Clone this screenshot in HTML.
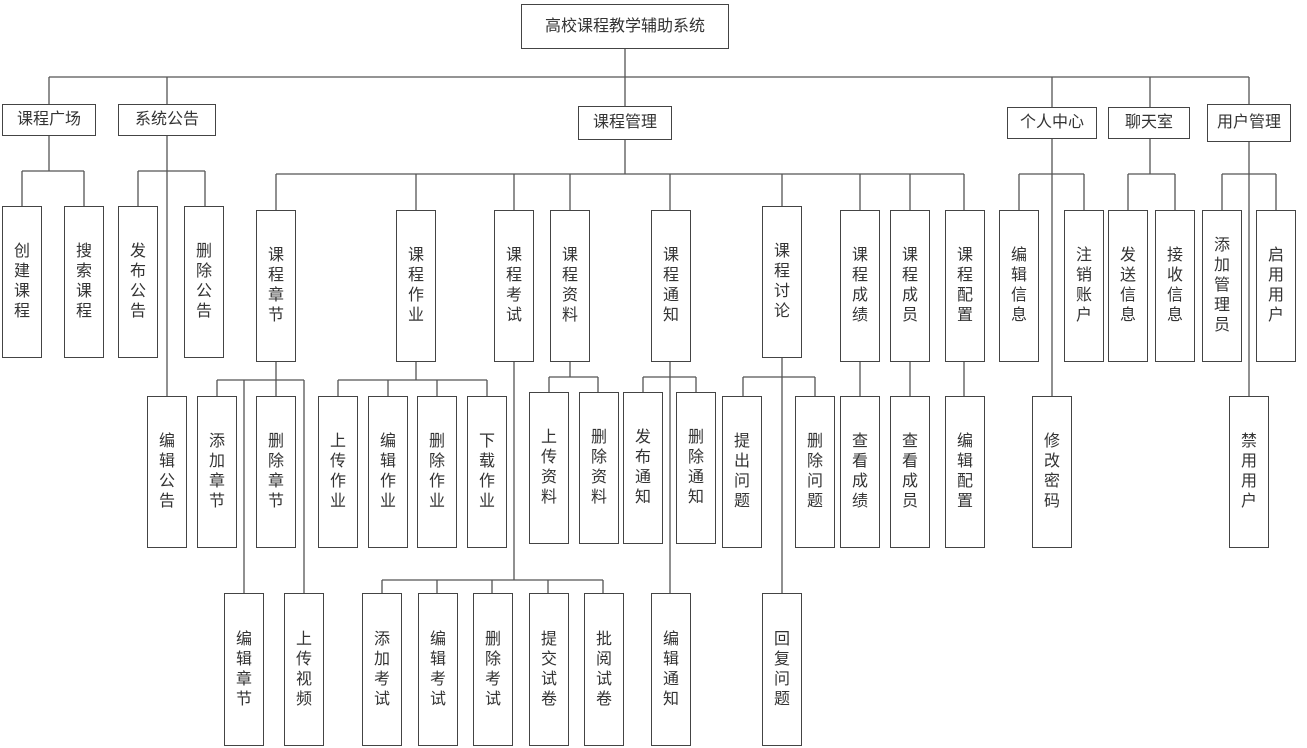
<!DOCTYPE html>
<html><head><meta charset="utf-8"><style>
html,body{margin:0;padding:0;background:#fff;}
body{width:1307px;height:748px;position:relative;overflow:hidden;font-family:"Liberation Sans","Noto Sans CJK SC",sans-serif;color:#333;}
svg{position:absolute;left:0;top:0;}
.b{position:absolute;box-sizing:border-box;border:1.3px solid #444;background:#fff;display:flex;align-items:center;justify-content:center;text-align:center;font-size:16px;line-height:20px;}
</style></head><body>
<svg width="1307" height="748" stroke="#555" stroke-width="1.3" fill="none">
<line x1="625" y1="49" x2="625" y2="106"/>
<line x1="49" y1="77" x2="1249" y2="77"/>
<line x1="49" y1="77" x2="49" y2="104"/><line x1="167" y1="77" x2="167" y2="104"/>
<line x1="1052" y1="77" x2="1052" y2="107"/><line x1="1150" y1="77" x2="1150" y2="107"/><line x1="1249" y1="77" x2="1249" y2="104"/>
<line x1="49" y1="136" x2="49" y2="171"/><line x1="22" y1="171" x2="84" y2="171"/>
<line x1="22" y1="171" x2="22" y2="206"/><line x1="84" y1="171" x2="84" y2="206"/>
<line x1="167" y1="136" x2="167" y2="396"/><line x1="138" y1="171" x2="205" y2="171"/>
<line x1="138" y1="171" x2="138" y2="206"/><line x1="205" y1="171" x2="205" y2="206"/>
<line x1="625" y1="140" x2="625" y2="174"/><line x1="276" y1="174" x2="964" y2="174"/>
<line x1="276" y1="174" x2="276" y2="210"/><line x1="416" y1="174" x2="416" y2="210"/><line x1="514" y1="174" x2="514" y2="210"/><line x1="570" y1="174" x2="570" y2="210"/><line x1="670" y1="174" x2="670" y2="210"/><line x1="782" y1="174" x2="782" y2="210"/><line x1="860" y1="174" x2="860" y2="210"/><line x1="910" y1="174" x2="910" y2="210"/><line x1="964" y1="174" x2="964" y2="210"/>
<line x1="276" y1="362" x2="276" y2="396"/><line x1="217" y1="380" x2="304" y2="380"/>
<line x1="217" y1="380" x2="217" y2="396"/><line x1="244" y1="380" x2="244" y2="593"/><line x1="304" y1="380" x2="304" y2="593"/>
<line x1="416" y1="362" x2="416" y2="380"/><line x1="338" y1="380" x2="487" y2="380"/>
<line x1="338" y1="380" x2="338" y2="396"/><line x1="388" y1="380" x2="388" y2="396"/><line x1="437" y1="380" x2="437" y2="396"/><line x1="487" y1="380" x2="487" y2="396"/>
<line x1="514" y1="362" x2="514" y2="580"/><line x1="382" y1="580" x2="603" y2="580"/>
<line x1="382" y1="580" x2="382" y2="593"/><line x1="437" y1="580" x2="437" y2="593"/><line x1="492" y1="580" x2="492" y2="593"/><line x1="548" y1="580" x2="548" y2="593"/><line x1="603" y1="580" x2="603" y2="593"/>
<line x1="570" y1="362" x2="570" y2="377"/><line x1="549" y1="377" x2="598" y2="377"/>
<line x1="549" y1="377" x2="549" y2="392"/><line x1="598" y1="377" x2="598" y2="392"/>
<line x1="670" y1="362" x2="670" y2="593"/><line x1="643" y1="377" x2="696" y2="377"/>
<line x1="643" y1="377" x2="643" y2="392"/><line x1="696" y1="377" x2="696" y2="392"/>
<line x1="782" y1="358" x2="782" y2="593"/><line x1="743" y1="377" x2="815" y2="377"/>
<line x1="743" y1="377" x2="743" y2="396"/><line x1="815" y1="377" x2="815" y2="396"/>
<line x1="860" y1="362" x2="860" y2="396"/><line x1="910" y1="362" x2="910" y2="396"/><line x1="964" y1="362" x2="964" y2="396"/>
<line x1="1052" y1="139" x2="1052" y2="396"/><line x1="1019" y1="174" x2="1084" y2="174"/>
<line x1="1019" y1="174" x2="1019" y2="210"/><line x1="1084" y1="174" x2="1084" y2="210"/>
<line x1="1150" y1="139" x2="1150" y2="174"/><line x1="1128" y1="174" x2="1175" y2="174"/>
<line x1="1128" y1="174" x2="1128" y2="210"/><line x1="1175" y1="174" x2="1175" y2="210"/>
<line x1="1249" y1="142" x2="1249" y2="396"/><line x1="1222" y1="174" x2="1276" y2="174"/>
<line x1="1222" y1="174" x2="1222" y2="210"/><line x1="1276" y1="174" x2="1276" y2="210"/>
</svg>

<div class="b" style="left:521px;top:4px;width:208px;height:45px;">高校课程教学辅助系统</div>
<div class="b" style="left:2px;top:104px;width:94px;height:32px;">课程广场</div>
<div class="b" style="left:118px;top:104px;width:98px;height:32px;">系统公告</div>
<div class="b" style="left:578px;top:106px;width:94px;height:34px;">课程管理</div>
<div class="b" style="left:1007px;top:107px;width:90px;height:32px;">个人中心</div>
<div class="b" style="left:1108px;top:107px;width:82px;height:32px;">聊天室</div>
<div class="b" style="left:1207px;top:104px;width:84px;height:38px;">用户管理</div>

<div class="b" style="left:2px;top:206px;width:40px;height:152px;">创<br>建<br>课<br>程</div>
<div class="b" style="left:64px;top:206px;width:40px;height:152px;">搜<br>索<br>课<br>程</div>
<div class="b" style="left:118px;top:206px;width:40px;height:152px;">发<br>布<br>公<br>告</div>
<div class="b" style="left:184px;top:206px;width:40px;height:152px;">删<br>除<br>公<br>告</div>

<div class="b" style="left:256px;top:210px;width:40px;height:152px;">课<br>程<br>章<br>节</div>
<div class="b" style="left:396px;top:210px;width:40px;height:152px;">课<br>程<br>作<br>业</div>
<div class="b" style="left:494px;top:210px;width:40px;height:152px;">课<br>程<br>考<br>试</div>
<div class="b" style="left:550px;top:210px;width:40px;height:152px;">课<br>程<br>资<br>料</div>
<div class="b" style="left:651px;top:210px;width:40px;height:152px;">课<br>程<br>通<br>知</div>
<div class="b" style="left:762px;top:206px;width:40px;height:152px;">课<br>程<br>讨<br>论</div>
<div class="b" style="left:840px;top:210px;width:40px;height:152px;">课<br>程<br>成<br>绩</div>
<div class="b" style="left:890px;top:210px;width:40px;height:152px;">课<br>程<br>成<br>员</div>
<div class="b" style="left:945px;top:210px;width:40px;height:152px;">课<br>程<br>配<br>置</div>
<div class="b" style="left:999px;top:210px;width:40px;height:152px;">编<br>辑<br>信<br>息</div>
<div class="b" style="left:1064px;top:210px;width:40px;height:152px;">注<br>销<br>账<br>户</div>
<div class="b" style="left:1108px;top:210px;width:40px;height:152px;">发<br>送<br>信<br>息</div>
<div class="b" style="left:1155px;top:210px;width:40px;height:152px;">接<br>收<br>信<br>息</div>
<div class="b" style="left:1202px;top:210px;width:40px;height:152px;">添<br>加<br>管<br>理<br>员</div>
<div class="b" style="left:1256px;top:210px;width:40px;height:152px;">启<br>用<br>用<br>户</div>

<div class="b" style="left:147px;top:396px;width:40px;height:152px;">编<br>辑<br>公<br>告</div>
<div class="b" style="left:197px;top:396px;width:40px;height:152px;">添<br>加<br>章<br>节</div>
<div class="b" style="left:256px;top:396px;width:40px;height:152px;">删<br>除<br>章<br>节</div>
<div class="b" style="left:318px;top:396px;width:40px;height:152px;">上<br>传<br>作<br>业</div>
<div class="b" style="left:368px;top:396px;width:40px;height:152px;">编<br>辑<br>作<br>业</div>
<div class="b" style="left:417px;top:396px;width:40px;height:152px;">删<br>除<br>作<br>业</div>
<div class="b" style="left:467px;top:396px;width:40px;height:152px;">下<br>载<br>作<br>业</div>
<div class="b" style="left:529px;top:392px;width:40px;height:152px;">上<br>传<br>资<br>料</div>
<div class="b" style="left:579px;top:392px;width:40px;height:152px;">删<br>除<br>资<br>料</div>
<div class="b" style="left:623px;top:392px;width:40px;height:152px;">发<br>布<br>通<br>知</div>
<div class="b" style="left:676px;top:392px;width:40px;height:152px;">删<br>除<br>通<br>知</div>
<div class="b" style="left:722px;top:396px;width:40px;height:152px;">提<br>出<br>问<br>题</div>
<div class="b" style="left:795px;top:396px;width:40px;height:152px;">删<br>除<br>问<br>题</div>
<div class="b" style="left:840px;top:396px;width:40px;height:152px;">查<br>看<br>成<br>绩</div>
<div class="b" style="left:890px;top:396px;width:40px;height:152px;">查<br>看<br>成<br>员</div>
<div class="b" style="left:945px;top:396px;width:40px;height:152px;">编<br>辑<br>配<br>置</div>
<div class="b" style="left:1032px;top:396px;width:40px;height:152px;">修<br>改<br>密<br>码</div>
<div class="b" style="left:1229px;top:396px;width:40px;height:152px;">禁<br>用<br>用<br>户</div>

<div class="b" style="left:224px;top:593px;width:40px;height:153px;">编<br>辑<br>章<br>节</div>
<div class="b" style="left:284px;top:593px;width:40px;height:153px;">上<br>传<br>视<br>频</div>
<div class="b" style="left:362px;top:593px;width:40px;height:153px;">添<br>加<br>考<br>试</div>
<div class="b" style="left:418px;top:593px;width:40px;height:153px;">编<br>辑<br>考<br>试</div>
<div class="b" style="left:473px;top:593px;width:40px;height:153px;">删<br>除<br>考<br>试</div>
<div class="b" style="left:529px;top:593px;width:40px;height:153px;">提<br>交<br>试<br>卷</div>
<div class="b" style="left:584px;top:593px;width:40px;height:153px;">批<br>阅<br>试<br>卷</div>
<div class="b" style="left:651px;top:593px;width:40px;height:153px;">编<br>辑<br>通<br>知</div>
<div class="b" style="left:762px;top:593px;width:40px;height:153px;">回<br>复<br>问<br>题</div>
</body></html>
